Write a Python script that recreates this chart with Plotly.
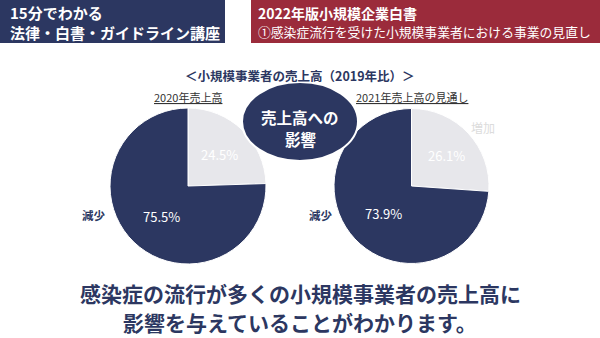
import plotly.graph_objects as go

W, H = 600, 338

# ---- data ----
slice_labels = ["増加", "減少"]
values_2020 = [24.5, 75.5]
values_2021 = [26.1, 73.9]
pie_titles = ["2020年売上高", "2021年売上高の見通し"]
chart_title = "＜小規模事業者の売上高（2019年比）＞"
center_label = ["売上高への", "影響"]
header_left = ["15分でわかる", "法律・白書・ガイドライン講座"]
header_right = ["2022年版小規模企業白書", "①感染症流行を受けた小規模事業者における事業の見直し"]
conclusion = ["感染症の流行が多くの小規模事業者の売上高に", "影響を与えていることがわかります。"]

NAVY = "#2c3761"
RED = "#9b2b3b"
LIGHT = "#e7e7eb"
FONT = "Noto Sans CJK JP"


def fx(x):
    return x / W


def fy(y):
    return 1 - y / H


def domain(cx, cy, r):
    return dict(x=[fx(cx - r), fx(cx + r)], y=[fy(cy + r), fy(cy - r)])


fig = go.Figure()
pies = [(values_2020, 188, 186, 78), (values_2021, 411.5, 186, 77.5)]
for vals, cx, cy, r in pies:
    fig.add_trace(go.Pie(
        labels=slice_labels, values=vals, sort=False, direction="clockwise",
        rotation=0, textinfo="none", hoverinfo="label+percent",
        marker=dict(colors=[LIGHT, NAVY], line=dict(color="white", width=1)),
        domain=domain(cx, cy, r), showlegend=False,
    ))

shapes = [
    dict(type="rect", xref="paper", yref="paper", x0=fx(0), x1=fx(225), y0=fy(43), y1=fy(0),
         fillcolor=NAVY, line=dict(width=0), layer="above"),
    dict(type="rect", xref="paper", yref="paper", x0=fx(251), x1=fx(600), y0=fy(43), y1=fy(0),
         fillcolor=RED, line=dict(width=0), layer="above"),
    dict(type="circle", xref="paper", yref="paper", x0=fx(242), x1=fx(358), y0=fy(161), y1=fy(82),
         fillcolor=NAVY, line=dict(color="white", width=2), layer="above"),
]

ann = []


def add(text, x, y, size, color, bold=False, xanchor="center"):
    ann.append(dict(text=f"<b>{text}</b>" if bold else text, x=fx(x), y=fy(y),
                    xref="paper", yref="paper", xanchor=xanchor, yanchor="middle",
                    showarrow=False, font=dict(family=FONT, size=size, color=color)))


# headers
add(header_left[0], 8, 13, 15, "white", True, "left")
add(header_left[1], 8, 32, 15, "white", True, "left")
add(header_right[0], 256, 13, 14, "white", True, "left")
add(header_right[1], 256, 31, 12.8, "white", False, "left")

# title and subtitles
add(chart_title, 300, 75, 12.5, NAVY, True)
add(f"<u>{pie_titles[0]}</u>", 188, 97, 11, "#333333")
add(f"<u>{pie_titles[1]}</u>", 412, 97, 11, "#333333")

# center ellipse text
add(center_label[0], 300, 117, 15.5, "white", True)
add(center_label[1], 300, 139, 15.5, "white", True)

# slice labels
add(slice_labels[1], 94, 215, 11.5, NAVY, True)
add(slice_labels[1], 321, 215, 11.5, NAVY, True)
add(slice_labels[0], 483, 127, 12, "#dcdcdc")

# percentages
add(f"{values_2020[0]}%", 220, 154, 13, "white")
add(f"{values_2020[1]}%", 161, 216, 13, "white")
add(f"{values_2021[0]}%", 446, 155, 13, "white")
add(f"{values_2021[1]}%", 383, 213, 13, "white")

# conclusion
add(conclusion[0], 300, 293, 21, NAVY, True)
add(conclusion[1], 300, 322, 21, NAVY, True)

fig.update_layout(
    width=W, height=H, margin=dict(l=0, r=0, t=0, b=0),
    paper_bgcolor="white", plot_bgcolor="white",
    shapes=shapes, annotations=ann,
)

fig.write_html("out.html")
